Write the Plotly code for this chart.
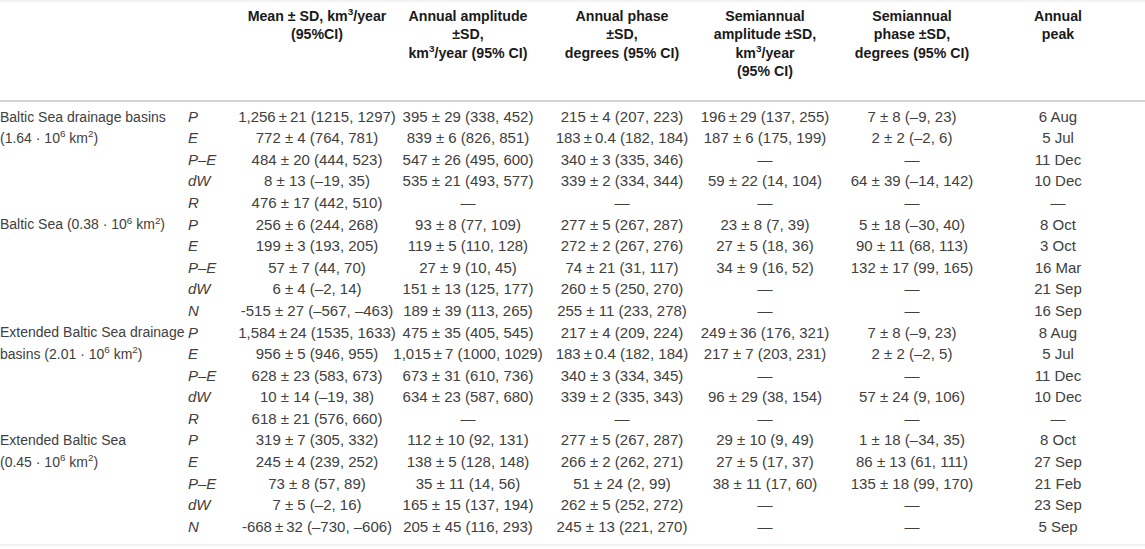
import plotly.graph_objects as go

T = "\u2009"  # thin space for tightly-set entries

regions = [
    "Baltic Sea drainage basins", "(1.64 · 10<sup>6</sup> km<sup>2</sup>)", "", "", "",
    "Baltic Sea (0.38 · 10<sup>6</sup> km<sup>2</sup>)", "", "", "", "",
    "Extended Baltic Sea drainage", "basins (2.01 · 10<sup>6</sup> km<sup>2</sup>)", "", "", "",
    "Extended Baltic Sea", "(0.45 · 10<sup>6</sup> km<sup>2</sup>)", "", "", "",
]

variables = ["P", "E", "P–E", "dW", "R",
             "P", "E", "P–E", "dW", "N",
             "P", "E", "P–E", "dW", "R",
             "P", "E", "P–E", "dW", "N"]

mean_sd = [
    f"1,256{T}±{T}21 (1215, 1297)", "772 ± 4 (764, 781)", "484 ± 20 (444, 523)",
    "8 ± 13 (–19, 35)", "476 ± 17 (442, 510)",
    "256 ± 6 (244, 268)", "199 ± 3 (193, 205)", "57 ± 7 (44, 70)",
    "6 ± 4 (–2, 14)", "-515 ± 27 (–567, –463)",
    f"1,584{T}±{T}24 (1535, 1633)", "956 ± 5 (946, 955)", "628 ± 23 (583, 673)",
    "10 ± 14 (–19, 38)", "618 ± 21 (576, 660)",
    "319 ± 7 (305, 332)", "245 ± 4 (239, 252)", "73 ± 8 (57, 89)",
    "7 ± 5 (–2, 16)", f"-668{T}±{T}32 (–730, –606)",
]

annual_amplitude = [
    "395 ± 29 (338, 452)", "839 ± 6 (826, 851)", "547 ± 26 (495, 600)",
    "535 ± 21 (493, 577)", "—",
    "93 ± 8 (77, 109)", "119 ± 5 (110, 128)", "27 ± 9 (10, 45)",
    "151 ± 13 (125, 177)", "189 ± 39 (113, 265)",
    "475 ± 35 (405, 545)", f"1,015{T}±{T}7 (1000, 1029)", "673 ± 31 (610, 736)",
    "634 ± 23 (587, 680)", "—",
    "112 ± 10 (92, 131)", "138 ± 5 (128, 148)", "35 ± 11 (14, 56)",
    "165 ± 15 (137, 194)", "205 ± 45 (116, 293)",
]

annual_phase = [
    "215 ± 4 (207, 223)", f"183{T}±{T}0.4 (182, 184)", "340 ± 3 (335, 346)",
    "339 ± 2 (334, 344)", "—",
    "277 ± 5 (267, 287)", "272 ± 2 (267, 276)", "74 ± 21 (31, 117)",
    "260 ± 5 (250, 270)", "255 ± 11 (233, 278)",
    "217 ± 4 (209, 224)", f"183{T}±{T}0.4 (182, 184)", "340 ± 3 (334, 345)",
    "339 ± 2 (335, 343)", "—",
    "277 ± 5 (267, 287)", "266 ± 2 (262, 271)", "51 ± 24 (2, 99)",
    "262 ± 5 (252, 272)", "245 ± 13 (221, 270)",
]

semiannual_amplitude = [
    f"196{T}±{T}29 (137, 255)", "187 ± 6 (175, 199)", "—", "59 ± 22 (14, 104)", "—",
    "23 ± 8 (7, 39)", "27 ± 5 (18, 36)", "34 ± 9 (16, 52)", "—", "—",
    f"249{T}±{T}36 (176, 321)", "217 ± 7 (203, 231)", "—", "96 ± 29 (38, 154)", "—",
    "29 ± 10 (9, 49)", "27 ± 5 (17, 37)", "38 ± 11 (17, 60)", "—", "—",
]

semiannual_phase = [
    "7 ± 8 (–9, 23)", "2 ± 2 (–2, 6)", "—", "64 ± 39 (–14, 142)", "—",
    "5 ± 18 (–30, 40)", "90 ± 11 (68, 113)", "132 ± 17 (99, 165)", "—", "—",
    "7 ± 8 (–9, 23)", "2 ± 2 (–2, 5)", "—", "57 ± 24 (9, 106)", "—",
    "1 ± 18 (–34, 35)", "86 ± 13 (61, 111)", "135 ± 18 (99, 170)", "—", "—",
]

annual_peak = [
    "6 Aug", "5 Jul", "11 Dec", "10 Dec", "—",
    "8 Oct", "3 Oct", "16 Mar", "21 Sep", "16 Sep",
    "8 Aug", "5 Jul", "11 Dec", "10 Dec", "—",
    "8 Oct", "27 Sep", "21 Feb", "23 Sep", "5 Sep",
]

headers = [
    "Mean ± SD, km<sup>3</sup>/year<br>(95%CI)",
    "Annual amplitude<br>±SD,<br>km<sup>3</sup>/year (95% CI)",
    "Annual phase<br>±SD,<br>degrees (95% CI)",
    "Semiannual<br>amplitude ±SD,<br>km<sup>3</sup>/year<br>(95% CI)",
    "Semiannual<br>phase ±SD,<br>degrees (95% CI)",
    "Annual<br>peak",
]

# ---- layout constants (pixel geometry of the 1145x549 page) ----
W, H = 1145, 549
FIRST_ROW_PX, LAST_ROW_PX = 118, 528
n_rows = len(variables)
PITCH = (LAST_ROW_PX - FIRST_ROW_PX) / (n_rows - 1)

def row_units(px):
    return (px - FIRST_ROW_PX) / PITCH

LABEL_X = 0
VAR_X = 188
CENTER_X = [317, 468, 622, 765, 912, 1058]
HEADER_TOP_PX = 10
RULES = [(1, "#e4e4e4", 1), (101, "#c6c6c6", 1.6), (545, "#e4e4e4", 1)]

FONT = "Liberation Sans, Arial, Helvetica, sans-serif"
BODY = dict(family=FONT, size=15, color="#404040")
LABEL = dict(family=FONT, size=14, color="#404040")
HEAD = dict(family=FONT, size=14.2, color="#1a1a1a", weight="bold")

fig = go.Figure()

def add_text(xpos, texts, pos, font):
    idx = [i for i, t in enumerate(texts) if t]
    fig.add_trace(go.Scatter(
        x=[xpos] * len(idx), y=idx, text=[texts[i] for i in idx],
        mode="text", textposition=pos, textfont=font,
        hoverinfo="skip", showlegend=False, cliponaxis=False,
    ))

add_text(LABEL_X, regions, "middle right", LABEL)
add_text(VAR_X, [f"<i>{v}</i>" for v in variables], "middle right", BODY)
for cx, col in zip(CENTER_X, [mean_sd, annual_amplitude, annual_phase,
                              semiannual_amplitude, semiannual_phase, annual_peak]):
    add_text(cx, col, "middle center", BODY)

fig.add_trace(go.Scatter(
    x=CENTER_X, y=[row_units(HEADER_TOP_PX)] * len(headers), text=headers,
    mode="text", textposition="bottom center", textfont=HEAD,
    hoverinfo="skip", showlegend=False, cliponaxis=False,
))

for py, c, w in RULES:
    fig.add_shape(type="line", xref="paper", yref="y", x0=0, x1=1,
                  y0=row_units(py), y1=row_units(py), line=dict(color=c, width=w))

fig.update_layout(
    width=W, height=H,
    margin=dict(l=0, r=0, t=0, b=0),
    paper_bgcolor="white", plot_bgcolor="white",
    xaxis=dict(range=[0, W], visible=False, fixedrange=True),
    yaxis=dict(range=[row_units(H), row_units(0)], visible=False, fixedrange=True),
)

fig.write_html(
    "out.html",
    config={"displayModeBar": False},
    post_script="document.body.style.margin='0px';document.body.style.overflow='hidden';",
)
